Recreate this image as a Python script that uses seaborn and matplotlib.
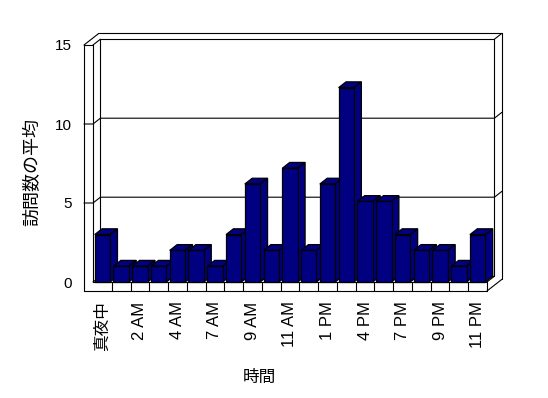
import matplotlib
matplotlib.use("Agg")
import matplotlib.pyplot as plt
import matplotlib.transforms as mtransforms
from matplotlib.patches import Polygon
import seaborn as sns
import pandas as pd

# ---------------- data ----------------
categories = ["真夜中", "1 AM", "2 AM", "3 AM", "4 AM", "5 AM", "7 AM", "8 AM",
              "9 AM", "10 AM", "11 AM", "正午", "1 PM", "2 PM", "4 PM", "5 PM",
              "7 PM", "8 PM", "9 PM", "10 PM", "11 PM"]
values = [3, 1, 1, 1, 2, 2, 1, 3, 6.2, 2, 7.2, 2, 6.2, 12.3, 5.1, 5.1, 3, 2, 2, 1, 3]
y_ticks = [0, 5, 10, 15]
x_title = "時間"
y_title = "訪問数の平均"

# ---------------- style ----------------
sns.set_style("white")
plt.rcParams["font.family"] = ["Liberation Sans", "Noto Sans CJK JP", "DejaVu Sans"]
plt.rcParams["text.color"] = "black"
plt.rcParams["xtick.color"] = "black"
plt.rcParams["ytick.color"] = "black"

W, H, DPI = 548, 398, 100
fig = plt.figure(figsize=(W / DPI, H / DPI), dpi=DPI)
fig.patch.set_facecolor("white")

# front plane of the 3-D box (image pixels, y downwards)
L, R, B, T = 93, 487, 282, 45
OL = 84            # outer face of the left wall
FB = 291           # bottom of the floor slab
DX, DY = 7.4, -5.8 # depth offset (pixels)

ax = fig.add_axes([L / W, 1 - B / H, (R - L) / W, (B - T) / H])
df = pd.DataFrame({"hour": categories, "visits": values})
sns.barplot(data=df, x="hour", y="visits", order=categories, ax=ax,
            color="#000080", saturation=1, width=0.82,
            edgecolor="black", linewidth=0.9)
n = len(categories)
ax.set_xlim(-0.5, n - 0.5)
ax.set_ylim(y_ticks[0], y_ticks[-1])
ax.patch.set_alpha(0)
for s in ax.spines.values():
    s.set_visible(False)

# pixel transform for the box decoration
pix = mtransforms.Affine2D().scale(1 / W, -1 / H).translate(0, 1) + fig.transFigure
LW = 0.8

def line(xs, ys, z=2):
    ax.add_line(plt.Line2D(xs, ys, transform=pix, color="black", lw=LW,
                           zorder=z, clip_on=False))

vmax = y_ticks[-1]
pxu = (B - T) / vmax
def yf(v):
    return B - v * pxu

# left wall
line([OL, OL], [T, FB])
line([L, L], [T, B])
line([L + DX, L + DX], [T + DY, B + DY])
line([OL, L], [T, T])
line([L, L + DX], [T, T + DY])
line([OL, OL + 2 * DX], [T, T + 2 * DY])
# back wall
line([L + DX, R + DX], [T + DY, T + DY])
line([OL + 2 * DX, R + 2 * DX], [T + 2 * DY, T + 2 * DY])
line([R + DX, R + DX], [T + DY, B + DY])
line([R + 2 * DX, R + 2 * DX], [T + 2 * DY, FB + 2 * DY])
line([R + DX, R + 2 * DX], [T + DY, T + 2 * DY])
line([L + DX, R + DX], [B + DY, B + DY])
# gridlines and wall ticks
for v in y_ticks[1:-1]:
    y = yf(v)
    line([OL, L, L + DX, R + DX, R + 2 * DX], [y, y, y + DY, y + DY, y + 2 * DY])
# floor slab
line([OL, R], [FB, FB])
line([L, R], [B, B])
line([R, R], [B, FB])
line([L, L + DX], [B, B + DY])
line([R, R + DX], [B, B + DY])
line([R, R + 2 * DX], [FB, FB + 2 * DY])
cw = (R - L) / n
for k in range(1, n):
    line([L + k * cw, L + k * cw], [B, FB])

# 3-D bar faces derived from the seaborn bars
ddx = DX / (R - L) * n
ddy = -DY / pxu
navy = "#000080"
for i, p in enumerate(ax.patches):
    x0, w, h = p.get_x(), p.get_width(), p.get_height()
    p.set_zorder(10 + 2 * i + 1)
    p.set_clip_on(False)
    top = Polygon([(x0, h), (x0 + w, h), (x0 + w + ddx, h + ddy), (x0 + ddx, h + ddy)],
                  closed=True, facecolor=navy, edgecolor="black", lw=0.9,
                  zorder=10 + 2 * i, clip_on=False)
    side = Polygon([(x0 + w, 0), (x0 + w, h), (x0 + w + ddx, h + ddy), (x0 + w + ddx, ddy)],
                   closed=True, facecolor=navy, edgecolor="black", lw=0.9,
                   zorder=10 + 2 * i, clip_on=False)
    ax.add_patch(top)
    ax.add_patch(side)

# ticks and labels
ax.set_yticks(y_ticks)
ax.set_yticklabels([str(t) for t in y_ticks])
ax.set_xticks(range(0, n, 2))
ax.set_xticklabels(categories[::2], rotation=90, va="top", ha="center")
ax.tick_params(axis="y", length=0, pad=15, labelsize=11, labelcolor="black")
ax.tick_params(axis="x", length=0, pad=14, labelsize=12, labelcolor="black")
ax.set_xlabel("")
ax.set_ylabel("")

fig.text(259 / W, 1 - 377 / H, x_title, ha="center", va="center", fontsize=12, color="black")
fig.text(33 / W, 1 - 172 / H, y_title, ha="center", va="center", rotation=90,
         fontsize=13, color="black")

fig.savefig("out.png", dpi=DPI, facecolor="white")
